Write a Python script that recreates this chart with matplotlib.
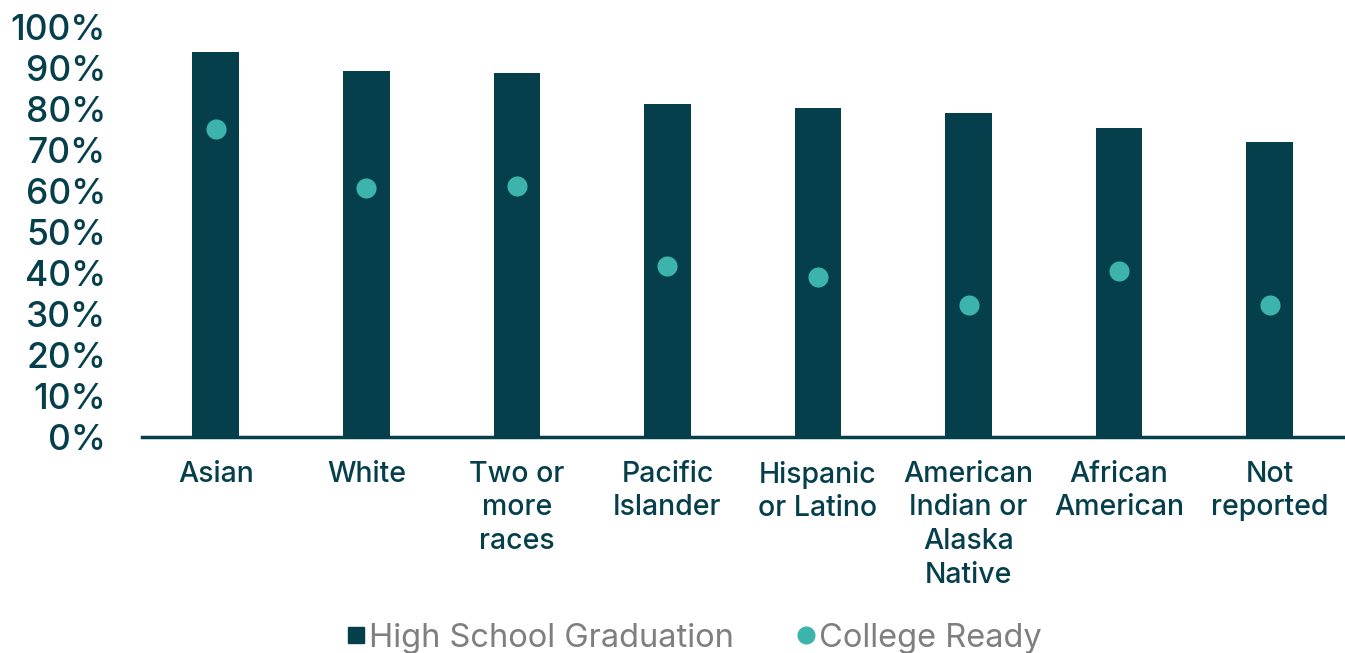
import matplotlib
matplotlib.use("Agg")
import matplotlib.pyplot as plt
from matplotlib.lines import Line2D
import numpy as np

# values (share of students, 0-1)
categories = [
    "Asian", "White", "Two or\nmore\nraces", "Pacific\nIslander",
    "Hispanic\nor Latino", "American\nIndian or\nAlaska\nNative",
    "African\nAmerican", "Not\nreported",
]
hs_graduation = [0.939, 0.893, 0.888, 0.812, 0.802, 0.790, 0.754, 0.720]
college_ready = [0.751, 0.607, 0.612, 0.417, 0.390, 0.322, 0.405, 0.322]
y_ticks = [0.0, 0.1, 0.2, 0.3, 0.4, 0.5, 0.6, 0.7, 0.8, 0.9, 1.0]

DARK = "#053F4B"
TEAL = "#3CB4AC"
GREY = "#7F7F7F"

plt.rcParams["font.family"] = ["Inter", "DejaVu Sans"]

fig = plt.figure(figsize=(13.45, 6.53), dpi=100)
ax = fig.add_axes([142 / 1345, 216 / 653, 1 - 142 / 1345, (437 - 27) / 653])

x = np.arange(len(categories))
ax.bar(x, hs_graduation, width=0.31, color=DARK, zorder=2)
ax.scatter(x, college_ready, s=210, color=TEAL, zorder=3, linewidths=0)

ax.set_xlim(-0.49, 7.5)
ax.set_ylim(0, 1.0)
ax.set_yticks(y_ticks)
ax.set_yticklabels([f"{int(round(v * 100))}%" for v in y_ticks])
ax.set_xticks(x)
ax.set_xticklabels(categories, linespacing=1.32)

ax.tick_params(axis="y", length=0, pad=26, labelsize=25.5, labelcolor=DARK)
ax.tick_params(axis="x", length=0, pad=17, labelsize=20.5, labelcolor=DARK)
for lbl in ax.get_yticklabels() + ax.get_xticklabels():
    lbl.set_fontweight("medium")

for side in ("top", "right", "left"):
    ax.spines[side].set_visible(False)
ax.spines["bottom"].set_color(DARK)
ax.spines["bottom"].set_linewidth(2.5)
ax.spines["bottom"].set_zorder(4)

handles = [
    Line2D([], [], marker="s", ls="", color=DARK, markersize=12),
    Line2D([], [], marker="o", ls="", color=TEAL, markersize=12),
]
fig.legend(handles, ["High School Graduation", "College Ready"],
           loc="center", bbox_to_anchor=(691 / 1345, 1 - 638 / 653),
           ncol=2, frameon=False, fontsize=23.5, labelcolor=GREY,
           handletextpad=-0.1, columnspacing=1.7, handlelength=1.0)

fig.savefig("out.png", dpi=100)
